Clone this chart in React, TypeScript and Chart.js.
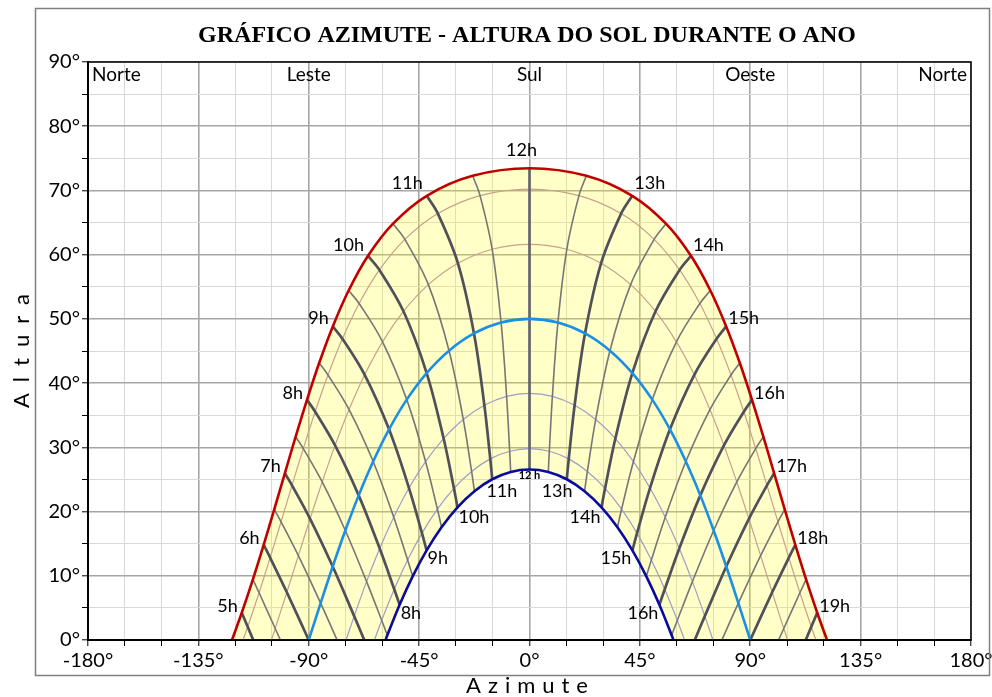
import React, { useEffect, useRef } from 'react';
import { Chart, registerables } from 'chart.js';

Chart.register(...registerables);

type P = [number, number] | null;

// Solar time of each column (half hours)
const HOURS: number[] = [5, 5.5, 6, 6.5, 7, 7.5, 8, 8.5, 9, 9.5, 10, 10.5, 11, 11.5, 12, 12.5, 13, 13.5, 14, 14.5, 15, 15.5, 16, 16.5, 17, 17.5, 18, 18.5, 19];

// [azimuth, altitude] per hour (null = sun below horizon)
const SUMMER: P[] = [[-117.31, 4.24], [-112.77, 9.44], [-108.38, 14.82], [-104.06, 20.34], [-99.75, 25.96], [-95.34, 31.65], [-90.72, 37.39], [-85.75, 43.13], [-80.19, 48.83], [-73.73, 54.42], [-65.83, 59.82], [-55.64, 64.83], [-41.89, 69.17], [-23.17, 72.28], [0, 73.45], [23.17, 72.28], [41.89, 69.17], [55.64, 64.83], [65.83, 59.82], [73.73, 54.42], [80.19, 48.83], [85.75, 43.13], [90.72, 37.39], [95.34, 31.65], [99.75, 25.96], [104.06, 20.34], [108.38, 14.82], [112.77, 9.44], [117.31, 4.24]];
const MAY_JUL: P[] = [[-114.89, 2.06], [-110.25, 7.36], [-105.74, 12.82], [-101.29, 18.41], [-96.82, 24.08], [-92.22, 29.81], [-87.39, 35.55], [-82.15, 41.27], [-76.28, 46.91], [-69.46, 52.4], [-61.2, 57.63], [-50.81, 62.39], [-37.36, 66.4], [-20.16, 69.19], [0, 70.2], [20.16, 69.19], [37.36, 66.4], [50.81, 62.39], [61.2, 57.63], [69.46, 52.4], [76.28, 46.91], [82.15, 41.27], [87.39, 35.55], [92.22, 29.81], [96.82, 24.08], [101.29, 18.41], [105.74, 12.82], [110.25, 7.36], [114.89, 2.06]];
const APR_AUG: P[] = [null, [-103.67, 1.79], [-98.94, 7.43], [-94.23, 13.13], [-89.46, 18.87], [-84.51, 24.61], [-79.27, 30.3], [-73.56, 35.88], [-67.2, 41.29], [-59.91, 46.43], [-51.38, 51.18], [-41.23, 55.34], [-29.17, 58.66], [-15.21, 60.84], [0, 61.6], [15.21, 60.84], [29.17, 58.66], [41.23, 55.34], [51.38, 51.18], [59.91, 46.43], [67.2, 41.29], [73.56, 35.88], [79.27, 30.3], [84.51, 24.61], [89.46, 18.87], [94.23, 13.13], [98.94, 7.43], [103.67, 1.79], null];
const EQUINOX: P[] = [null, null, null, [-85.16, 5.74], [-80.23, 11.44], [-75.09, 17.05], [-69.64, 22.52], [-63.74, 27.8], [-57.27, 32.8], [-50.05, 37.43], [-41.93, 41.56], [-32.8, 45.05], [-22.63, 47.73], [-11.58, 49.42], [0, 50], [11.58, 49.42], [22.63, 47.73], [32.8, 45.05], [41.93, 41.56], [50.05, 37.43], [57.27, 32.8], [63.74, 27.8], [69.64, 22.52], [75.09, 17.05], [80.23, 11.44], [85.16, 5.74], null, null, null];
const FEB_OCT: P[] = [null, null, null, null, [-71.48, 3.72], [-66.42, 9.09], [-61.07, 14.24], [-55.34, 19.12], [-49.13, 23.66], [-42.38, 27.78], [-35.01, 31.37], [-27.0, 34.34], [-18.4, 36.55], [-9.33, 37.93], [0, 38.4], [9.33, 37.93], [18.4, 36.55], [27.0, 34.34], [35.01, 31.37], [42.38, 27.78], [49.13, 23.66], [55.34, 19.12], [61.07, 14.24], [66.42, 9.09], [71.48, 3.72], null, null, null, null];
const JAN_NOV: P[] = [null, null, null, null, null, [-60.26, 3.05], [-55.14, 7.9], [-49.68, 12.46], [-43.84, 16.64], [-37.55, 20.39], [-30.81, 23.62], [-23.6, 26.25], [-16.0, 28.2], [-8.08, 29.39], [0, 29.8], [8.08, 29.39], [16.0, 28.2], [23.6, 26.25], [30.81, 23.62], [37.55, 20.39], [43.84, 16.64], [49.68, 12.46], [55.14, 7.9], [60.26, 3.05], null, null, null, null, null];
const WINTER: P[] = [null, null, null, null, null, [-57.96, 0.75], [-52.95, 5.49], [-47.63, 9.91], [-41.95, 13.95], [-35.86, 17.56], [-29.36, 20.66], [-22.45, 23.17], [-15.19, 25.03], [-7.67, 26.17], [0, 26.55], [7.67, 26.17], [15.19, 25.03], [22.45, 23.17], [29.36, 20.66], [35.86, 17.56], [41.95, 13.95], [47.63, 9.91], [52.95, 5.49], [57.96, 0.75], null, null, null, null, null];

// Sunrise / sunset azimuths of each day curve (summer ... winter)
const RISE_AZ: number[] = [121.3, 116.79, 105.22, 90, 74.78, 63.21, 58.7];
// Azimuth where an hour line meets the horizon
const HOUR_HORIZON_AZ: (number | null)[] = [-112.63, -101.57, -90, -78.43, -67.37, null, null, null, null, null, null, null, null, null, null, null, null, null, null, null, null, null, null, null, 67.37, 78.43, 90, 101.57, 112.63];

const COMPASS_NAMES: string[] = ['Norte', 'Leste', 'Sul', 'Oeste', 'Norte'];
const COMPASS_AZ: number[] = [-180, -90, 0, 90, 180];
const TITLE = 'GRÁFICO AZIMUTE - ALTURA DO SOL DURANTE O ANO';

const FONT = 'Lato, "Open Sans", sans-serif';

function dayCurve(pts: P[], rise: number) {
  const out: { x: number; y: number }[] = [{ x: -rise, y: 0 }];
  pts.forEach((p) => { if (p) out.push({ x: p[0], y: p[1] }); });
  out.push({ x: rise, y: 0 });
  return out;
}

function hourLine(i: number) {
  const out: { x: number; y: number }[] = [];
  const hz = HOUR_HORIZON_AZ[i];
  if (hz !== null) out.push({ x: hz, y: 0 });
  [WINTER, JAN_NOV, FEB_OCT, EQUINOX, APR_AUG, MAY_JUL, SUMMER].forEach((c) => {
    const p = c[i];
    if (p) out.push({ x: p[0], y: p[1] });
  });
  return out;
}

const decor = {
  id: 'decor',
  beforeDraw(chart: any) {
    const { ctx, width, height } = chart;
    ctx.save();
    ctx.fillStyle = '#ffffff';
    ctx.fillRect(0, 0, width, height);
    ctx.restore();
  },
  afterDraw(chart: any) {
    const { ctx, chartArea: a } = chart;
    const xs = chart.scales.x;
    const ys = chart.scales.y;
    ctx.save();
    // plot frame
    ctx.strokeStyle = '#000';
    ctx.lineWidth = 1.5;
    ctx.strokeRect(a.left, a.top, a.right - a.left, a.bottom - a.top);
    // outer border
    ctx.strokeStyle = '#808080';
    ctx.lineWidth = 1.5;
    ctx.strokeRect(35.5, 8.5, 954, 667);

    // title
    ctx.fillStyle = '#000';
    ctx.font = 'bold 24px "Liberation Serif", serif';
    ctx.textAlign = 'center';
    ctx.textBaseline = 'middle';
    ctx.fillText(TITLE, 527, 36);

    // compass names
    ctx.font = `19px ${FONT}`;
    COMPASS_NAMES.forEach((n, i) => {
      let px = xs.getPixelForValue(COMPASS_AZ[i]);
      if (i === 0) { ctx.textAlign = 'left'; px += 4; }
      else if (i === COMPASS_NAMES.length - 1) { ctx.textAlign = 'right'; px -= 4; }
      else ctx.textAlign = 'center';
      ctx.fillText(n, px, a.top + 13);
    });

    // summer hour labels
    ctx.font = `18px ${FONT}`;
    HOURS.forEach((h, i) => {
      if (h % 1 !== 0) return;
      const p = SUMMER[i];
      if (!p) return;
      const px = xs.getPixelForValue(p[0]);
      const py = ys.getPixelForValue(p[1]);
      const dy = 7 + Math.max(0, p[1] - 45) * 0.22;
      const txt = `${h}h`;
      if (h < 12) { ctx.textAlign = 'right'; ctx.fillText(txt, px - 4, py - dy); }
      else if (h === 12) { ctx.textAlign = 'center'; ctx.fillText(txt, px - 8, py - 18); }
      else { ctx.textAlign = 'left'; ctx.fillText(txt, px + 2, py - dy); }
    });

    // winter hour labels
    HOURS.forEach((h, i) => {
      if (h % 1 !== 0) return;
      const p = WINTER[i];
      if (!p) return;
      const px = xs.getPixelForValue(p[0]);
      const py = ys.getPixelForValue(p[1]);
      const txt = `${h}h`;
      const dy = 8 + Math.max(0, p[1] - 14) * 0.35;
      const dx = 1 - Math.max(0, p[1] - 21) * 1.7;
      if (h === 12) {
        ctx.font = `bold 11px ${FONT}`;
        ctx.textAlign = 'center';
        ctx.fillText('12 h', px, py + 6);
        ctx.font = `18px ${FONT}`;
      } else if (h < 12) { ctx.textAlign = 'left'; ctx.fillText(txt, px + dx, py + dy); }
      else { ctx.textAlign = 'right'; ctx.fillText(txt, px - dx, py + dy); }
    });

    // axis titles
    ctx.font = `22px ${FONT}`;
    ctx.fillStyle = '#000';
    (ctx as any).letterSpacing = '7px';
    ctx.textAlign = 'left';
    ctx.textBaseline = 'middle';
    const wz = ctx.measureText('Azimute').width - 7;
    ctx.fillText('Azimute', 527 - wz / 2, 686);
    ctx.translate(22, 351);
    ctx.rotate(-Math.PI / 2);
    (ctx as any).letterSpacing = '11px';
    const wa = ctx.measureText('Altura').width - 11;
    ctx.fillText('Altura', -wa / 2, 0);
    ctx.restore();
  },
};

function buildConfig(): any {
  const datasets: any[] = [];
  // yellow band between summer and winter paths
  const summerPts = dayCurve(SUMMER, RISE_AZ[0]);
  const winterPts = dayCurve(WINTER, RISE_AZ[6]);
  datasets.push({
    data: summerPts.concat(winterPts.slice().reverse()),
    borderWidth: 0,
    borderColor: 'rgba(0,0,0,0)',
    backgroundColor: 'rgba(255,255,0,0.22)',
    fill: 'shape',
    order: 10,
  });
  // thin intermediate day curves
  datasets.push({ data: dayCurve(MAY_JUL, RISE_AZ[1]), borderColor: '#c9a08c', borderWidth: 1.2, order: 8 });
  datasets.push({ data: dayCurve(APR_AUG, RISE_AZ[2]), borderColor: '#c9a08c', borderWidth: 1.2, order: 8 });
  datasets.push({ data: dayCurve(FEB_OCT, RISE_AZ[4]), borderColor: '#9d9dc8', borderWidth: 1.2, order: 8 });
  datasets.push({ data: dayCurve(JAN_NOV, RISE_AZ[5]), borderColor: '#9d9dc8', borderWidth: 1.2, order: 8 });
  // hour lines
  HOURS.forEach((h, i) => {
    const full = h % 1 === 0;
    datasets.push({
      data: hourLine(i),
      borderColor: full ? (h === 12 ? '#666670' : '#50505a') : '#767676',
      borderWidth: full ? 2.7 : 1.6,
      order: full ? 6 : 7,
    });
  });
  // main curves
  datasets.push({ data: dayCurve(EQUINOX, RISE_AZ[3]), borderColor: '#1a8fe3', borderWidth: 2.6, order: 2 });
  datasets.push({ data: winterPts, borderColor: '#0a0a9c', borderWidth: 2.6, order: 1 });
  datasets.push({ data: summerPts, borderColor: '#c00000', borderWidth: 2.6, order: 1 });

  const isMajorX = (c: any) => c.tick && Math.round(c.tick.value) % 45 === 0;
  const isMajorY = (c: any) => c.tick && Math.round(c.tick.value) % 10 === 0;

  return {
    type: 'line',
    data: { datasets },
    options: {
      responsive: false,
      animation: false,
      devicePixelRatio: 1,
      layout: { padding: { top: 62, right: 21, left: 0, bottom: 0 } },
      elements: {
        point: { radius: 0, hoverRadius: 0 },
        line: { tension: 0.35, fill: false },
      },
      plugins: { legend: { display: false }, tooltip: { enabled: false }, title: { display: false } },
      events: [],
      scales: {
        x: {
          type: 'linear',
          min: -180,
          max: 180,
          ticks: {
            stepSize: 15,
            autoSkip: false,
            maxRotation: 0,
            minRotation: 0,
            padding: 3,
            color: '#000',
            font: { size: 20, family: FONT },
            callback: (v: number) => (Math.round(v) % 45 === 0 ? `${v}°` : ''),
          },
          grid: {
            color: (c: any) => (isMajorX(c) ? '#a6a6a6' : '#d9d9d9'),
            lineWidth: (c: any) => (isMajorX(c) ? 1.6 : 1),
            tickColor: '#000',
            tickWidth: 1,
            tickLength: 6,
          },
          border: { color: '#000', width: 2 },
          afterFit: (s: any) => { s.height = 57; s.paddingLeft = 0; s.paddingRight = 0; },
        },
        y: {
          type: 'linear',
          min: 0,
          max: 90,
          ticks: {
            stepSize: 5,
            autoSkip: false,
            padding: 2,
            color: '#000',
            font: { size: 20, family: FONT },
            callback: (v: number) => (Math.round(v) % 10 === 0 ? `${v}°` : ''),
          },
          grid: {
            color: (c: any) => (isMajorY(c) ? '#a6a6a6' : '#d9d9d9'),
            lineWidth: (c: any) => (isMajorY(c) ? 1.6 : 1),
            tickColor: '#000',
            tickWidth: 1,
            tickLength: 6,
          },
          border: { color: '#000', width: 2 },
          afterFit: (s: any) => { s.width = 88; s.paddingTop = 0; s.paddingBottom = 0; },
        },
      },
    },
    plugins: [decor],
  };
}

export default function App() {
  const ref = useRef<HTMLCanvasElement | null>(null);
  useEffect(() => {
    document.body.style.margin = '0';
    if (!ref.current) return;
    const chart = new Chart(ref.current, buildConfig());
    return () => chart.destroy();
  }, []);
  return (
    <div style={{ width: 992, height: 697 }}>
      <canvas ref={ref} width={992} height={697} style={{ display: 'block', width: 992, height: 697 }} />
    </div>
  );
}
